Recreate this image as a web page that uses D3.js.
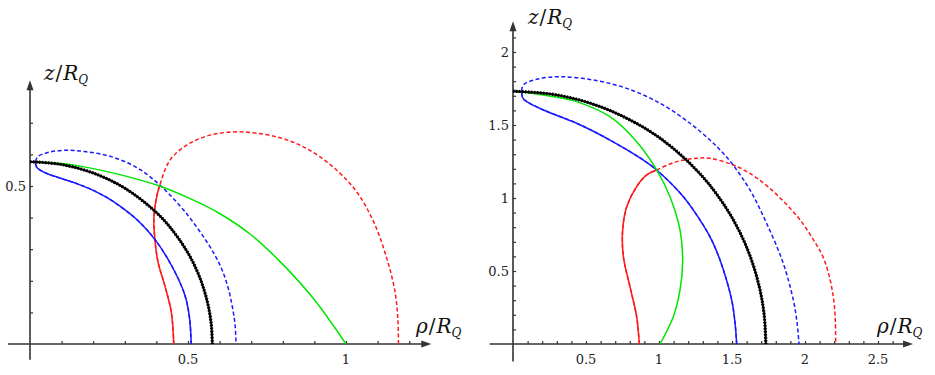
<!DOCTYPE html>
<html>
<head>
<meta charset="utf-8">
<script src="https://cdn.jsdelivr.net/npm/d3@7"></script>
<style>
  body { margin: 0; background: #fff; }
  text { font-family: "DejaVu Serif", "Liberation Serif", "Times New Roman", serif; }
</style>
</head>
<body>
<div id="chart"></div>
<script>
// [rho, z] pairs, left panel
const leftBlack = [[0,0.577],[0.1,0.568],[0.2,0.541],[0.3,0.493],[0.4,0.416],[0.45,0.361],[0.5,0.288],[0.53,0.228],[0.55,0.174],[0.565,0.117],[0.574,0.058],[0.577,0]];
const leftGreen = [[0,0.577],[0.1,0.571],[0.2,0.555],[0.3,0.532],[0.41,0.5],[0.5,0.463],[0.6,0.413],[0.7,0.345],[0.8,0.252],[0.9,0.14],[1.0,0]];
const leftBlueSolid = [[0.017,0.575],[0.021,0.56],[0.031,0.551],[0.057,0.538],[0.099,0.524],[0.152,0.506],[0.205,0.484],[0.257,0.455],[0.342,0.39],[0.395,0.331],[0.447,0.25],[0.49,0.155],[0.505,0.081],[0.51,0]];
const leftBlueDashed = [[0.017,0.575],[0.025,0.593],[0.057,0.606],[0.11,0.613],[0.173,0.609],[0.257,0.593],[0.342,0.556],[0.416,0.498],[0.49,0.419],[0.563,0.318],[0.601,0.25],[0.625,0.185],[0.64,0.12],[0.649,0.06],[0.652,0]];
const leftRedSolid = [[0.455,0],[0.447,0.102],[0.426,0.187],[0.405,0.26],[0.395,0.334],[0.392,0.398],[0.4,0.461],[0.41,0.5]];
const leftRedDashed = [[0.41,0.5],[0.443,0.582],[0.497,0.63],[0.57,0.661],[0.674,0.671],[0.813,0.646],[0.918,0.592],[1.022,0.497],[1.085,0.392],[1.129,0.271],[1.155,0.166],[1.164,0.08],[1.166,0]];

// right panel
const rightBlack = [[0,1.732],[0.3,1.706],[0.6,1.625],[0.9,1.48],[1.1,1.338],[1.3,1.145],[1.45,0.947],[1.55,0.773],[1.63,0.586],[1.69,0.379],[1.72,0.204],[1.732,0]];
const rightGreen = [[0,1.732],[0.208,1.705],[0.322,1.687],[0.436,1.66],[0.664,1.557],[0.847,1.386],[0.984,1.192],[1.075,1.009],[1.144,0.781],[1.162,0.575],[1.144,0.37],[1.098,0.187],[1.007,0]];
const rightBlueSolid = [[0.059,1.721],[0.07,1.68],[0.094,1.66],[0.208,1.603],[0.436,1.512],[0.664,1.397],[0.893,1.26],[0.984,1.192],[1.167,1.009],[1.281,0.849],[1.349,0.735],[1.418,0.575],[1.498,0.301],[1.521,0.142],[1.532,0]];
const rightBlueDashed = [[0.059,1.721],[0.071,1.774],[0.162,1.813],[0.322,1.831],[0.55,1.808],[0.779,1.751],[1.007,1.649],[1.212,1.512],[1.349,1.397],[1.418,1.329],[1.498,1.238],[1.623,1.055],[1.737,0.827],[1.851,0.553],[1.92,0.301],[1.945,0.15],[1.959,0]];
const rightRedSolid = [[0.865,0],[0.847,0.187],[0.801,0.393],[0.756,0.598],[0.751,0.781],[0.779,0.94],[0.847,1.078],[0.916,1.158],[0.984,1.192]];
const rightRedDashed = [[0.984,1.192],[1.121,1.249],[1.258,1.272],[1.349,1.272],[1.509,1.226],[1.62,1.17],[1.737,1.085],[1.85,0.98],[1.966,0.85],[2.06,0.71],[2.126,0.59],[2.172,0.44],[2.198,0.29],[2.208,0.15],[2.21,0]];

// tick labels
const leftXLabels = [0.5, 1];
const leftYLabels = [0.5];
const rightXLabels = [0.5, 1, 1.5, 2, 2.5];
const rightYLabels = [0.5, 1, 1.5, 2];

const width = 935, height = 375;

const svg = d3.select("#chart").append("svg")
    .attr("width", width)
    .attr("height", height);

// length along a drawn path up to the point nearest pt (pixels)
function lengthTo(path, pt) {
    let node = path.node();
    let total = node.getTotalLength();
    let best = 0, bestD = Infinity;
    for (let l = 0; l <= total; l += 0.25) {
        let q = node.getPointAtLength(l);
        let d = (q.x - pt[0]) ** 2 + (q.y - pt[1]) ** 2;
        if (d < bestD) { bestD = d; best = l; }
    }
    return best;
}

function drawPanel(p) {
    let x = d3.scaleLinear().domain([0, 1]).range([p.ox, p.ox + p.unit]);
    let y = d3.scaleLinear().domain([0, 1]).range([p.oy, p.oy - p.unit]);
    let g = svg.append("g");

    // axes with arrow heads
    g.append("line")
        .attr("x1", x(p.xMin)).attr("x2", x(p.xMax) - 4)
        .attr("y1", y(0)).attr("y2", y(0))
        .attr("stroke", "#333").attr("stroke-width", 1.6);
    g.append("line")
        .attr("x1", x(0)).attr("x2", x(0))
        .attr("y1", y(p.yMin)).attr("y2", y(p.yMax) + 4)
        .attr("stroke", "#333").attr("stroke-width", 1.6);
    g.append("path")
        .attr("d", `M${x(p.xMax)},${y(0)} l-10,-3.5 l0,7 z`)
        .attr("fill", "#333");
    g.append("path")
        .attr("d", `M${x(0)},${y(p.yMax)} l-3.5,10 l7,0 z`)
        .attr("fill", "#333");

    // ticks, pointing into the plot
    g.append("g")
        .attr("transform", `translate(0,${y(0)})`)
        .call(d3.axisTop(x).tickValues(p.xMinor).tickSize(3).tickFormat(""))
        .call(s => s.select(".domain").remove())
        .call(s => s.selectAll("line").attr("stroke", "#333").attr("stroke-width", 1.2));
    g.append("g")
        .attr("transform", `translate(${x(0)},0)`)
        .call(d3.axisRight(y).tickValues(p.yMinor).tickSize(3).tickFormat(""))
        .call(s => s.select(".domain").remove())
        .call(s => s.selectAll("line").attr("stroke", "#333").attr("stroke-width", 1.2));

    g.selectAll(".xlab")
        .data(p.xLabels)
        .enter()
        .append("text")
        .attr("x", d => x(d))
        .attr("y", y(0) + 20)
        .attr("text-anchor", "middle")
        .attr("font-size", 13)
        .attr("fill", "#222")
        .text(d => d);
    g.selectAll(".ylab")
        .data(p.yLabels)
        .enter()
        .append("text")
        .attr("x", x(0) - 4)
        .attr("y", d => y(d) + 4.5)
        .attr("text-anchor", "end")
        .attr("font-size", 13)
        .attr("fill", "#222")
        .text(d => d);

    axisLabel(g, p.zLab[0], p.zLab[1], "z");
    axisLabel(g, p.rhoLab[0], p.rhoLab[1], "\u03c1");

    let line = d3.line()
        .x(d => x(d[0]))
        .y(d => y(d[1]))
        .curve(d3.curveCatmullRom.alpha(0.5));

    // each coloured curve is one smooth path: solid up to the split point, dashed after it
    let curves = [
        {data: p.redSolid.concat(p.redDashed.slice(1)), split: p.redSolid[p.redSolid.length - 1], color: "#ff1a1a"},
        {data: p.blueSolid.slice().reverse().concat(p.blueDashed.slice(1)), split: p.blueSolid[0], color: "#1a1aff"}
    ];
    curves.forEach(c => {
        g.append("path")
            .attr("d", line(c.data))
            .attr("fill", "none")
            .attr("stroke", c.color)
            .attr("stroke-width", 1.5)
            .attr("stroke-dasharray", "4,2.5");
        let solid = g.append("path")
            .attr("d", line(c.data))
            .attr("fill", "none")
            .attr("stroke", c.color)
            .attr("stroke-width", 1.5);
        let len = lengthTo(solid, [x(c.split[0]), y(c.split[1])]);
        solid.attr("stroke-dasharray", len + "," + 100000);
    });

    g.append("path")
        .attr("d", line(p.green))
        .attr("fill", "none")
        .attr("stroke", "#00e600")
        .attr("stroke-width", 1.5);

    // thick black line with a dashed black copy on top
    g.append("path")
        .attr("d", line(p.black))
        .attr("fill", "none")
        .attr("stroke", "#000")
        .attr("stroke-width", 2);
    g.append("path")
        .attr("d", line(p.black))
        .attr("fill", "none")
        .attr("stroke", "#000")
        .attr("stroke-width", 3.2)
        .attr("stroke-dasharray", "1.6,1.4");
}

function axisLabel(g, x, y, v) {
    let t = g.append("text")
        .attr("x", x)
        .attr("y", y)
        .attr("font-size", 20)
        .attr("fill", "#111");
    t.append("tspan").attr("font-style", "italic").text(v);
    t.append("tspan").attr("dx", 1).text("/");
    t.append("tspan").attr("font-style", "italic").attr("dx", 1).text("R");
    t.append("tspan").attr("font-style", "italic").attr("font-size", 12).attr("dy", 4).text("Q");
}

drawPanel({
    ox: 30, oy: 344, unit: 316,
    xMin: -0.07, xMax: 1.27, yMin: -0.05, yMax: 0.835,
    xMinor: d3.range(1, 13).map(i => i / 10),
    yMinor: d3.range(1, 8).map(i => i / 10),
    xLabels: leftXLabels, yLabels: leftYLabels,
    zLab: [44, 80], rhoLab: [416, 333],
    black: leftBlack, green: leftGreen,
    blueSolid: leftBlueSolid, blueDashed: leftBlueDashed,
    redSolid: leftRedSolid, redDashed: leftRedDashed
});

drawPanel({
    ox: 513, oy: 344, unit: 146,
    xMin: -0.16, xMax: 2.74, yMin: -0.12, yMax: 2.21,
    xMinor: d3.range(1, 27).map(i => i / 10),
    yMinor: d3.range(1, 22).map(i => i / 10),
    xLabels: rightXLabels, yLabels: rightYLabels,
    zLab: [528, 24], rhoLab: [877, 333],
    black: rightBlack, green: rightGreen,
    blueSolid: rightBlueSolid, blueDashed: rightBlueDashed,
    redSolid: rightRedSolid, redDashed: rightRedDashed
});
</script>
</body>
</html>
